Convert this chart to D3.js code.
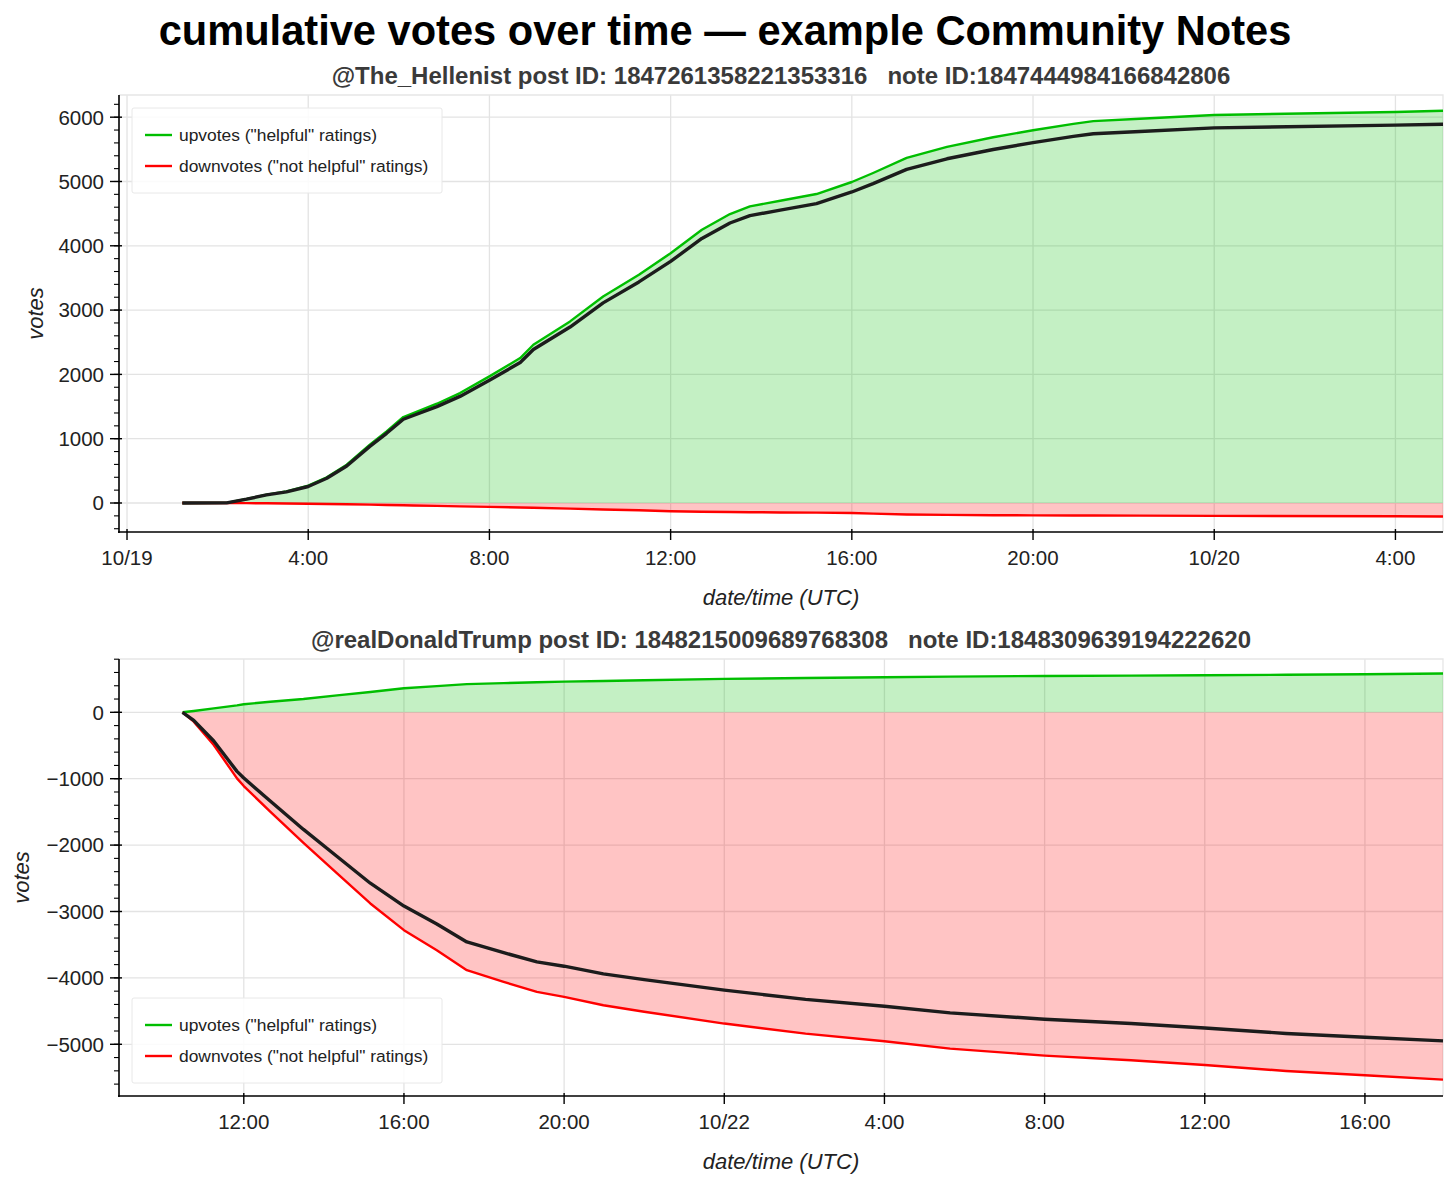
<!DOCTYPE html>
<html>
<head>
<meta charset="utf-8">
<script src="https://cdn.jsdelivr.net/npm/d3@7"></script>
<style>
  body { margin: 0; background: #fff; }
  svg { display: block; font-family: "Liberation Sans", Arial, Helvetica, sans-serif; }
</style>
</head>
<body>
<svg id="chart" width="1456" height="1187"></svg>
<script>
// panel 1: @The_Hellenist (hours after 10/19 00:00 UTC)
var hellenistStart = '2024-10-19T00:00:00Z';
var hellenistHours = [1.22, 2.2, 2.64, 3.08, 3.52, 4.0, 4.41, 4.85, 5.36, 5.73, 6.1, 6.32, 6.84, 7.35, 8.0, 8.68, 8.97, 9.78, 10.51, 11.3, 12.0, 12.69, 13.31, 13.75, 14.42, 15.22, 16.0, 16.47, 17.21, 18.1, 19.12, 20.0, 20.89, 21.33, 22.36, 24.0, 28.0, 29.05];
var hellenistUp = [0, 2, 62, 130, 181, 269, 399, 596, 907, 1114, 1337, 1399, 1544, 1710, 1969, 2254, 2461, 2824, 3212, 3550, 3885, 4249, 4494, 4613, 4701, 4805, 4992, 5132, 5366, 5538, 5688, 5797, 5896, 5938, 5975, 6034, 6081, 6101];
var hellenistDown = [0, 0, 2, 4, 7, 12, 15, 20, 26, 30, 35, 38, 45, 52, 60, 70, 75, 88, 100, 112, 128, 135, 140, 143, 147, 150, 155, 165, 178, 185, 190, 192, 194, 195, 197, 200, 205, 210];
var hellenistXlim = ['2024-10-18T23:49:23Z', '2024-10-20T05:03:00Z'];
var hellenistYlim = [-451, 6345];
var hellenistYticks = [0, 1000, 2000, 3000, 4000, 5000, 6000];

// panel 2: @realDonaldTrump (hours after 10/21 00:00 UTC)
var trumpStart = '2024-10-21T00:00:00Z';
var trumpHours = [10.47, 10.75, 11.25, 11.83, 12.0, 12.66, 13.49, 14.33, 15.16, 16.0, 16.82, 17.57, 18.49, 19.32, 20.0, 20.98, 22.0, 24.0, 26.03, 28.0, 29.64, 32.0, 34.16, 36.0, 38.03, 40.0, 41.95];
var trumpUp = [0, 20, 60, 105, 121, 160, 201, 255, 305, 362, 395, 425, 440, 452, 462, 472, 483, 503, 516, 528, 538, 548, 553, 558, 565, 573, 585];
var trumpDown = [0, 141, 492, 995, 1111, 1497, 1965, 2427, 2879, 3281, 3583, 3884, 4060, 4211, 4286, 4412, 4510, 4688, 4839, 4955, 5065, 5171, 5241, 5312, 5402, 5467, 5533];
var trumpXlim = ['2024-10-21T08:53:00Z', '2024-10-22T17:57:00Z'];
var trumpYlim = [-5779, 803];
var trumpYticks = [-5000, -4000, -3000, -2000, -1000, 0];

var chartTitle = 'cumulative votes over time \u2014 example Community Notes';
var panelTitles = [
    '@The_Hellenist post ID: 1847261358221353316\u00a0\u00a0\u00a0note ID:1847444984166842806',
    '@realDonaldTrump post ID: 1848215009689768308\u00a0\u00a0\u00a0note ID:1848309639194222620'
];
var legendLabels = ['upvotes ("helpful" ratings)', 'downvotes ("not helpful" ratings)'];

var GREEN = '#00be00', RED = '#ff0000', NET = '#1c1c1c';

var svg = d3.select('#chart');

svg.append('text')
    .attr('x', 725).attr('y', 45)
    .attr('text-anchor', 'middle')
    .style('font-size', '41.6px').style('font-weight', 'bold').style('fill', '#000')
    .text(chartTitle);

function toRows(start, hours, up, down) {
    var t0 = new Date(start).getTime();
    return hours.map(function(h, i) {
        return { t: new Date(t0 + h * 3600e3), up: up[i], down: -down[i], net: up[i] - down[i] };
    });
}

function drawPanel(opt) {
    var left = 119, right = 1443, top = opt.top, bottom = opt.top + 437;
    var rows = toRows(opt.start, opt.hours, opt.up, opt.down);

    var x = d3.scaleUtc().domain(opt.xlim.map(function(s) { return new Date(s); })).range([left, right]);
    var y = d3.scaleLinear().domain(opt.ylim).range([bottom, top]);
    var g = svg.append('g');

    var xticks = x.ticks(d3.utcHour.every(4));
    var minor = d3.range(Math.ceil(opt.ylim[0] / 200) * 200, opt.ylim[1], 200);

    // grid
    g.append('g').selectAll('line').data(xticks).enter().append('line')
        .attr('x1', function(d) { return x(d); }).attr('x2', function(d) { return x(d); })
        .attr('y1', top).attr('y2', bottom)
        .style('stroke', '#e3e3e3').style('stroke-width', 1.3);
    g.append('g').selectAll('line').data(opt.yticks).enter().append('line')
        .attr('x1', left).attr('x2', right)
        .attr('y1', function(d) { return y(d); }).attr('y2', function(d) { return y(d); })
        .style('stroke', '#e3e3e3').style('stroke-width', 1.3);
    g.append('path')
        .attr('d', 'M' + left + ',' + top + 'H' + right + 'V' + bottom)
        .style('fill', 'none').style('stroke', '#e6e6e6').style('stroke-width', 1.3);

    // fills
    var upArea = d3.area().x(function(d) { return x(d.t); }).y0(y(0)).y1(function(d) { return y(d.up); });
    var downArea = d3.area().x(function(d) { return x(d.t); }).y0(y(0)).y1(function(d) { return y(d.down); });
    g.append('path').datum(rows).attr('d', downArea).style('fill', RED).style('fill-opacity', 0.23);
    g.append('path').datum(rows).attr('d', upArea).style('fill', GREEN).style('fill-opacity', 0.23);

    // lines
    ['up', 'down', 'net'].forEach(function(k) {
        var line = d3.line().x(function(d) { return x(d.t); }).y(function(d) { return y(d[k]); });
        g.append('path').datum(rows).attr('d', line)
            .style('fill', 'none')
            .style('stroke', k === 'up' ? GREEN : k === 'down' ? RED : NET)
            .style('stroke-width', k === 'net' ? 3.4 : 2.4)
            .style('stroke-linejoin', 'round');
    });

    // spines + ticks
    var ax = g.append('g').style('stroke', '#000');
    ax.append('line').attr('x1', left).attr('x2', left).attr('y1', top).attr('y2', bottom + 1).style('stroke-width', 1.6);
    ax.append('line').attr('x1', left - 1).attr('x2', right).attr('y1', bottom).attr('y2', bottom).style('stroke-width', 1.6);
    ax.selectAll('.ymin').data(minor).enter().append('line')
        .attr('x1', left - 5).attr('x2', left)
        .attr('y1', function(d) { return y(d); }).attr('y2', function(d) { return y(d); })
        .style('stroke-width', 1.1);
    ax.selectAll('.ymaj').data(opt.yticks).enter().append('line')
        .attr('x1', left - 9).attr('x2', left + 3)
        .attr('y1', function(d) { return y(d); }).attr('y2', function(d) { return y(d); })
        .style('stroke-width', 1.4);
    ax.selectAll('.xmaj').data(xticks).enter().append('line')
        .attr('x1', function(d) { return x(d); }).attr('x2', function(d) { return x(d); })
        .attr('y1', bottom - 3).attr('y2', bottom + 8)
        .style('stroke-width', 1.4);

    var fmtDay = d3.utcFormat('%m/%d'), fmtHour = d3.utcFormat('%-H:%M');
    g.append('g').selectAll('text').data(xticks).enter().append('text')
        .attr('x', function(d) { return x(d); }).attr('y', bottom + 33)
        .attr('text-anchor', 'middle')
        .style('font-size', '20.5px').style('fill', '#222')
        .text(function(d) { return d.getUTCHours() === 0 ? fmtDay(d) : fmtHour(d); });
    g.append('g').selectAll('text').data(opt.yticks).enter().append('text')
        .attr('x', left - 15).attr('y', function(d) { return y(d); }).attr('dy', '0.36em')
        .attr('text-anchor', 'end')
        .style('font-size', '20.5px').style('fill', '#222')
        .text(d3.format('d'));

    // labels
    g.append('text')
        .attr('x', (left + right) / 2).attr('y', top - 11)
        .attr('text-anchor', 'middle')
        .style('font-size', '24px').style('font-weight', 'bold').style('fill', '#3a3a3a')
        .text(opt.title);
    g.append('text')
        .attr('x', (left + right) / 2).attr('y', bottom + 65).attr('dy', '0.35em')
        .attr('text-anchor', 'middle')
        .style('font-size', '22px').style('font-style', 'italic').style('fill', '#222')
        .text('date/time (UTC)');
    g.append('text')
        .attr('transform', 'translate(' + opt.ylabelX + ',' + (top + bottom) / 2 + ') rotate(-90)')
        .attr('dy', '0.35em')
        .attr('text-anchor', 'middle')
        .style('font-size', '22px').style('font-style', 'italic').style('fill', '#222')
        .text('votes');

    // legend
    var ly = opt.legendBottom ? bottom - 13 - 85 : top + 13;
    var lg = g.append('g').attr('transform', 'translate(' + (left + 13) + ',' + ly + ')');
    lg.append('rect').attr('width', 310).attr('height', 85).attr('rx', 2)
        .style('fill', '#fff').style('fill-opacity', 0.85)
        .style('stroke', '#e8e8e8').style('stroke-width', 1);
    legendLabels.forEach(function(lbl, i) {
        var yy = 27 + i * 31;
        lg.append('line').attr('x1', 13).attr('x2', 40).attr('y1', yy).attr('y2', yy)
            .style('stroke', i === 0 ? GREEN : RED).style('stroke-width', 2.4);
        lg.append('text').attr('x', 47).attr('y', yy).attr('dy', '0.35em')
            .style('font-size', '17.4px').style('fill', '#222')
            .text(lbl);
    });
}

drawPanel({ top: 95, start: hellenistStart, hours: hellenistHours, up: hellenistUp, down: hellenistDown,
    xlim: hellenistXlim, ylim: hellenistYlim, yticks: hellenistYticks, title: panelTitles[0], ylabelX: 35, legendBottom: false });
drawPanel({ top: 659, start: trumpStart, hours: trumpHours, up: trumpUp, down: trumpDown,
    xlim: trumpXlim, ylim: trumpYlim, yticks: trumpYticks, title: panelTitles[1], ylabelX: 21, legendBottom: true });
</script>
</body>
</html>
